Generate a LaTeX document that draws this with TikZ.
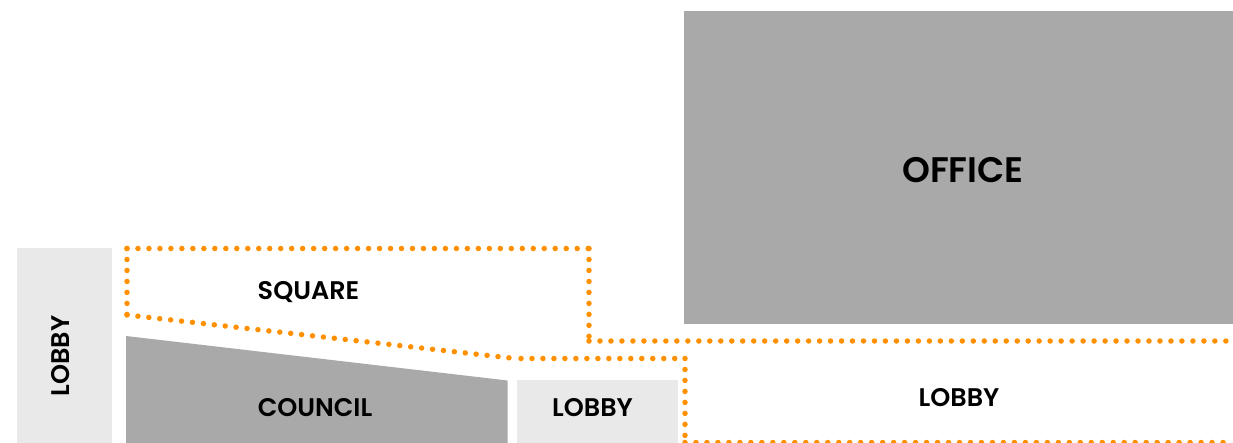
\documentclass[tikz,border=0pt]{standalone}
\usepackage{fontspec}
\setmainfont[BoldFont={Poppins SemiBold}]{Poppins}
\usepackage{tikz}
\definecolor{RoomDark}{RGB}{169,169,169}
\definecolor{RoomLight}{RGB}{233,233,233}
\definecolor{RouteOrange}{RGB}{255,145,0}
\begin{document}
\begin{tikzpicture}[x=1pt,y=-1pt,
room/.style n args={3}{fill=#1,minimum width=#2pt,minimum height=#3pt,inner sep=0pt,rectangle},
route/.style={RouteOrange,line width=5.5pt,line cap=round,dash pattern=on 0pt off 10.98pt},
lbl/.style={font=\fontsize{25.5}{25.5}\selectfont\bfseries,inner sep=0pt}]
\useasboundingbox (0,0) rectangle (1233,443);
   \node[room={RoomDark}{549}{313}](office) at(958.5,167.5) {};
   \node[room={RoomLight}{95}{195}](lobbyL) at(64,345.5) {};
   \node[room={RoomLight}{161.5}{63}](lobbyM) at(597.5,411.5) {};
\fill[RoomDark] (126,336) coordinate (c0) -- (507.5,380.5) -- (507.5,443) -- (126,443) -- cycle;
% route corners
\coordinate (a0) at (127,248.5);
\coordinate (a1) at (589,248.5);
\coordinate (a2) at (589,341);
\coordinate (a3) at (1233,341);
\coordinate (b0) at (127,315);
\coordinate (b1) at (515,358.5);
\coordinate (b2) at (521,358.5);
\coordinate (b3) at (685,358.5);
\coordinate (b4) at (685,442.5);
\coordinate (b5) at (1233,442.5);
\foreach \p/\q in {a0/a1,a1/a2,a2/a3,a0/b0,b0/b1,b2/b3,b3/b4,b4/b5} {
   \draw[route] (\p) -- (\q);
}
   \node[lbl,font=\fontsize{35.5}{35.5}\selectfont\bfseries](tOffice) at(963,170.5) {OFFICE};
   \node[lbl](tSquare) at(308.5,292) {SQUARE};
   \node[lbl](tCouncil) at(315,408) {COUNCIL};
   \node[lbl](tLobbyM) at(592.5,408) {LOBBY};
   \node[lbl](tLobbyR) at(959,398) {LOBBY};
   \node[lbl,rotate=90](tLobbyL) at(61,356) {LOBBY};
\end{tikzpicture}
\end{document}
